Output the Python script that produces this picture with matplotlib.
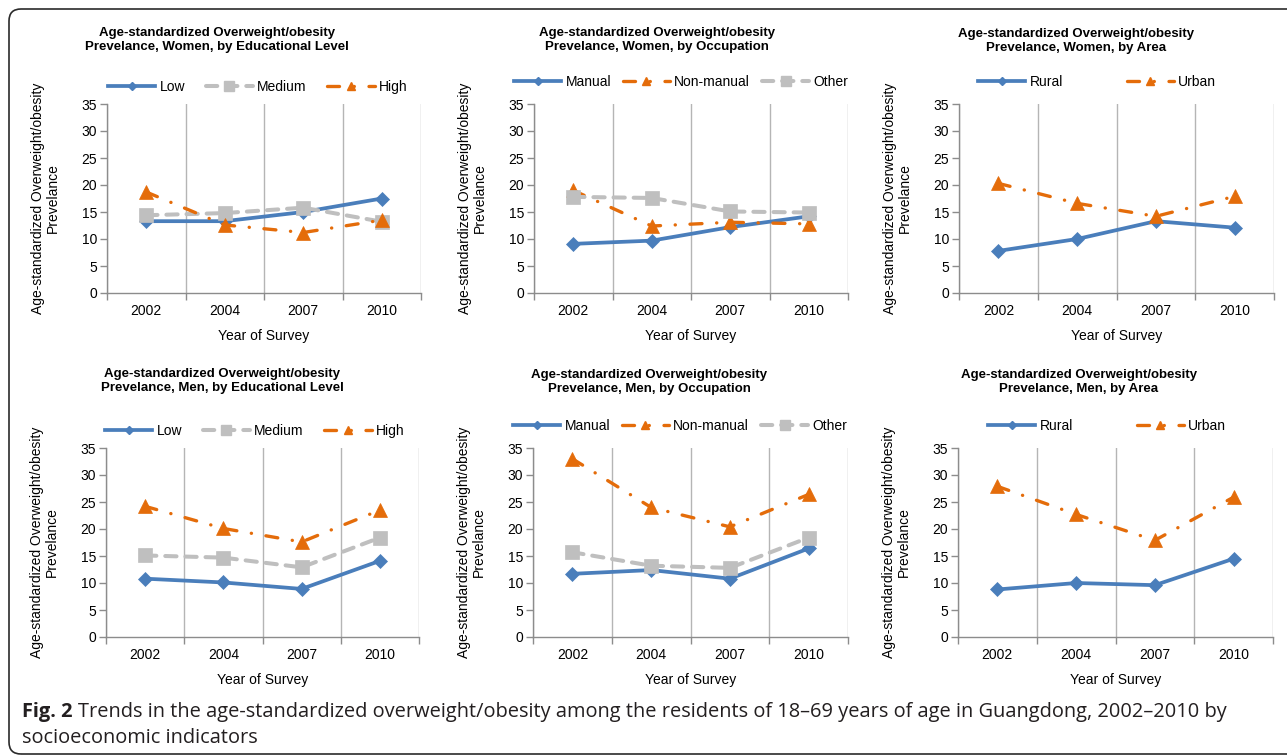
import matplotlib
matplotlib.use("Agg")
import matplotlib.pyplot as plt
import matplotlib.patches as mpatches
from matplotlib.lines import Line2D
from matplotlib.transforms import IdentityTransform
import numpy as np

# ---- data ----
years = ["2002", "2004", "2007", "2010"]

edu_labels = ["Low", "Medium", "High"]
women_edu_low = [13.3, 13.3, 15.0, 17.5]
women_edu_medium = [14.4, 14.8, 15.8, 13.2]
women_edu_high = [18.7, 12.6, 11.2, 13.5]
men_edu_low = [10.8, 10.1, 8.9, 14.1]
men_edu_medium = [15.1, 14.7, 12.9, 18.4]
men_edu_high = [24.2, 20.1, 17.6, 23.5]

occ_labels = ["Manual", "Non-manual", "Other"]
women_occ_manual = [9.1, 9.7, 12.2, 14.2]
women_occ_nonmanual = [19.0, 12.4, 13.1, 12.8]
women_occ_other = [17.8, 17.6, 15.1, 14.9]
men_occ_manual = [11.7, 12.4, 10.8, 16.4]
men_occ_nonmanual = [33.0, 24.0, 20.4, 26.4]
men_occ_other = [15.7, 13.2, 12.8, 18.4]

area_labels = ["Rural", "Urban"]
women_area_rural = [7.8, 10.0, 13.3, 12.1]
women_area_urban = [20.3, 16.6, 14.2, 17.9]
men_area_rural = [8.8, 10.0, 9.6, 14.5]
men_area_urban = [27.9, 22.7, 17.9, 25.9]

titles = [
    "Age-standardized Overweight/obesity\nPrevelance, Women, by Educational Level",
    "Age-standardized Overweight/obesity\nPrevelance, Women, by Occupation",
    "Age-standardized Overweight/obesity\nPrevelance, Women, by Area",
    "Age-standardized Overweight/obesity\nPrevelance, Men, by Educational Level",
    "Age-standardized Overweight/obesity\nPrevelance, Men, by Occupation",
    "Age-standardized Overweight/obesity\nPrevelance, Men, by Area",
]
ylabel = "Age-standardized Overweight/obesity\nPrevelance"
xlabel = "Year of Survey"
caption_bold = "Fig. 2"
caption_line1 = ("Trends in the age-standardized overweight/obesity among the residents "
                 "of 18\u201369 years of age in Guangdong, 2002\u20132010 by")
caption_line2 = "socioeconomic indicators"

# ---- styles ----
BLUE = "#4A7EBB"
ORANGE = "#E46C0A"
GRAY = "#BFBFBF"
styles = {
    "solid": dict(color=BLUE, lw=2.7, ls="-", marker="D", ms=6.8),
    "dash": dict(color=GRAY, lw=2.9, ls=(0, (2.8, 2.2)), marker="s", ms=10),
    "dashdot": dict(color=ORANGE, lw=2.4, ls=(0, (3.6, 4.4, 0.05, 4.4)), marker="^", ms=10.5),
}
legend_ms = {"solid": 4.0, "dash": 6.5, "dashdot": 5.5}

plt.rcParams["font.family"] = ["Liberation Sans", "DejaVu Sans"]

W, H = 1287, 756
fig = plt.figure(figsize=(W / 100, H / 100), dpi=100)


def fx(px):
    return px / W


def fy(py):
    return 1 - py / H


# panels: axes px rect (x0, x1, y0, y1), series, legend (left px, column spacing, centre y px), title centre
panels = [
    ((107, 421, 104, 293),
     [(edu_labels[0], women_edu_low, "solid"), (edu_labels[1], women_edu_medium, "dash"),
      (edu_labels[2], women_edu_high, "dashdot")],
     (108, 1.5, 87), (217, 40)),
    ((534, 848, 104, 293),
     [(occ_labels[0], women_occ_manual, "solid"), (occ_labels[1], women_occ_nonmanual, "dashdot"),
      (occ_labels[2], women_occ_other, "dash")],
     (514, 0.85, 82), (657, 40)),
    ((959, 1274, 104, 293),
     [(area_labels[0], women_area_rural, "solid"), (area_labels[1], women_area_urban, "dashdot")],
     (978, 4.6, 82), (1076, 41)),
    ((106, 419, 448, 637),
     [(edu_labels[0], men_edu_low, "solid"), (edu_labels[1], men_edu_medium, "dash"),
      (edu_labels[2], men_edu_high, "dashdot")],
     (105, 1.5, 431), (222, 381)),
    ((533, 848, 448, 637),
     [(occ_labels[0], men_occ_manual, "solid"), (occ_labels[1], men_occ_nonmanual, "dashdot"),
      (occ_labels[2], men_occ_other, "dash")],
     (513, 0.85, 426), (649, 382)),
    ((958, 1273, 448, 637),
     [(area_labels[0], men_area_rural, "solid"), (area_labels[1], men_area_urban, "dashdot")],
     (988, 4.6, 426), (1079, 382)),
]

x = np.arange(len(years))
for i, ((x0, x1, y0, y1), series, (lx, colsp, lyc), (tx, ty)) in enumerate(panels):
    ax = fig.add_axes([fx(x0), fy(y1), (x1 - x0) / W, (y1 - y0) / H])
    handles = []
    for k, (name, vals, st) in enumerate(series):
        s = styles[st]
        ax.plot(x, vals, color=s["color"], lw=s["lw"], ls=s["ls"], marker=s["marker"],
                ms=s["ms"], mec=s["color"], mfc=s["color"], mew=0.5,
                dash_capstyle="round", solid_capstyle="round", zorder=3 + k)
        handles.append(Line2D([], [], color=s["color"], lw=s["lw"], ls=s["ls"],
                              marker=s["marker"], ms=legend_ms[st], mec=s["color"],
                              mfc=s["color"], dash_capstyle="round"))
    ax.set_xlim(-0.5, 3.5)
    ax.set_ylim(0, 35)
    ax.set_yticks(np.arange(0, 36, 5))
    ax.set_xticks(np.arange(-0.5, 4, 1))
    ax.set_xticklabels([])
    ax.set_xticks(x, minor=True)
    ax.set_xticklabels(years, minor=True)
    ax.tick_params(axis="x", which="major", length=5, width=1, color="#8C8C8C", direction="out")
    ax.tick_params(axis="x", which="minor", length=0, pad=8, labelsize=10)
    ax.tick_params(axis="y", length=5, width=1, color="#8C8C8C", pad=2, labelsize=10)
    ax.xaxis.grid(True, which="major", color="#B5B5B5", lw=1)
    for sp in ("top", "right"):
        ax.spines[sp].set_visible(False)
    for sp in ("left", "bottom"):
        ax.spines[sp].set_color("#8C8C8C")
        ax.spines[sp].set_linewidth(1)
    ax.set_xlabel(xlabel, fontsize=10, labelpad=8)
    ax.set_ylabel(ylabel, fontsize=10, labelpad=16, linespacing=1.05)

    ax.legend(handles, [s[0] for s in series], loc="center left",
              bbox_to_anchor=(fx(lx), fy(lyc)), bbox_transform=fig.transFigure,
              ncol=len(series), frameon=False, fontsize=10, columnspacing=colsp,
              handlelength=3.4, handletextpad=0.3, borderaxespad=0, borderpad=0)

    fig.text(fx(tx), fy(ty), titles[i], ha="center", va="center", multialignment="center",
             fontsize=9.5, fontweight="bold", linespacing=1.2)

# caption
cap_font = ["Open Sans", "DejaVu Sans"]
cap_size = 14.4
t_bold = fig.text(fx(22), fy(712), caption_bold, fontsize=cap_size, fontweight="bold",
                  family=cap_font, va="center", color="#231F20")
renderer = fig.canvas.get_renderer()
bb = t_bold.get_window_extent(renderer)
fig.text(fx(bb.x1 + 5), fy(712), caption_line1, fontsize=cap_size, family=cap_font,
         va="center", color="#231F20")
fig.text(fx(22), fy(738), caption_line2, fontsize=cap_size, family=cap_font,
         va="center", color="#231F20")

# rounded frame around the figure (clipped at right edge)
frame = mpatches.FancyBboxPatch((9, H - 754), 1400, 745,
                                boxstyle="round,pad=0,rounding_size=12",
                                fill=False, ec="#2B2B2B", lw=1.2, transform=IdentityTransform())
fig.add_artist(frame)

fig.savefig("out.png", dpi=100)
